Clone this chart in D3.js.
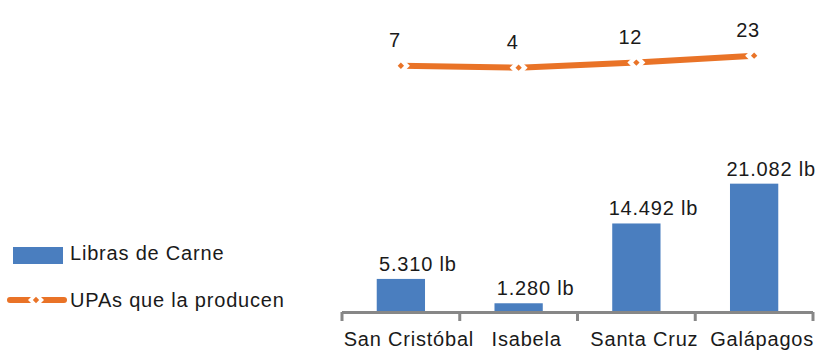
<!DOCTYPE html>
<html>
<head>
<meta charset="utf-8">
<script src="https://cdn.jsdelivr.net/npm/d3@7"></script>
<style>
  html, body { margin: 0; padding: 0; background: #fff; }
  svg { display: block; }
  text { font-family: "Liberation Sans", Arial, sans-serif; font-size: 20px; letter-spacing: 0.8px; fill: #1a1a1a; }
</style>
</head>
<body>
<svg id="chart" width="821" height="352"></svg>
<script>
const categories = ["San Cristóbal", "Isabela", "Santa Cruz", "Galápagos"];
const libras = [5310, 1280, 14492, 21082];
const libraLabels = ["5.310 lb", "1.280 lb", "14.492 lb", "21.082 lb"];
const upas = [7, 4, 12, 23];
const seriesNames = ["Libras de Carne", "UPAs que la producen"];

const blue = "#4A7EBF";
const orange = "#E97327";
const axisGray = "#878787";

const svg = d3.select("#chart");

const x = d3.scaleBand().domain(categories).range([342, 813]).paddingInner(0.59).paddingOuter(0.295);
const yBar = d3.scaleLinear().domain([0, 25000]).range([311, 160]);
const yLine = d3.scaleLinear().domain([0, 25]).range([70.2, 54.4]);

// bars
svg.selectAll("rect.bar").data(libras).enter().append("rect")
  .attr("class", "bar")
  .attr("x", (d, i) => x(categories[i]))
  .attr("width", x.bandwidth())
  .attr("y", d => yBar(d))
  .attr("height", d => yBar(0) - yBar(d))
  .attr("fill", blue);

// bar labels
svg.selectAll("text.blabel").data(libras).enter().append("text")
  .attr("class", "blabel")
  .attr("x", (d, i) => x(categories[i]) + x.bandwidth() / 2 + 17)
  .attr("y", d => yBar(d) - 8)
  .attr("text-anchor", "middle")
  .text((d, i) => libraLabels[i]);

// x axis
const axis = d3.axisBottom(x).tickSize(0).tickFormat("");
const gx = svg.append("g").attr("transform", "translate(0,312)").call(axis);
gx.select(".domain").remove();
svg.append("line").attr("x1", 342).attr("x2", 813).attr("y1", 312.5).attr("y2", 312.5)
  .attr("stroke", axisGray).attr("stroke-width", 3);
const step = x.step();
const bounds = d3.range(categories.length + 1).map(i => x.range()[0] + i * step);
svg.selectAll("line.tick").data(bounds).enter().append("line")
  .attr("class", "tick")
  .attr("x1", d => d).attr("x2", d => d)
  .attr("y1", 312).attr("y2", 321)
  .attr("stroke", axisGray).attr("stroke-width", 3);

// category labels
svg.selectAll("text.cat").data(categories).enter().append("text")
  .attr("class", "cat")
  .attr("x", d => x(d) + x.bandwidth() / 2 + 8)
  .attr("y", 346)
  .attr("text-anchor", "middle")
  .text(d => d);

// line series
const cx = (i) => x(categories[i]) + x.bandwidth() / 2;
const line = d3.line().x((d, i) => cx(i)).y(d => yLine(d));
svg.append("path").datum(upas)
  .attr("d", line)
  .attr("fill", "none")
  .attr("stroke", orange)
  .attr("stroke-width", 6);

const diamond = (r) => `M0,${-r}L${r},0L0,${r}L${-r},0Z`;
svg.selectAll("path.mw").data(upas).enter().append("path")
  .attr("class", "mw")
  .attr("transform", (d, i) => `translate(${cx(i)},${yLine(d)})`)
  .attr("d", diamond(9))
  .attr("fill", "#fff");
svg.selectAll("path.mo").data(upas).enter().append("path")
  .attr("class", "mo")
  .attr("transform", (d, i) => `translate(${cx(i)},${yLine(d)})`)
  .attr("d", diamond(3.2))
  .attr("fill", orange);

svg.selectAll("text.llabel").data(upas).enter().append("text")
  .attr("class", "llabel")
  .attr("x", (d, i) => cx(i) - 6)
  .attr("y", d => yLine(d) - 19)
  .attr("text-anchor", "middle")
  .text(d => d);

// legend
svg.append("rect").attr("x", 13).attr("y", 247).attr("width", 50).attr("height", 17).attr("fill", blue);
svg.append("text").attr("x", 70).attr("y", 260).text(seriesNames[0]);
svg.append("line").attr("x1", 10).attr("x2", 64).attr("y1", 300).attr("y2", 300)
  .attr("stroke", orange).attr("stroke-width", 6).attr("stroke-linecap", "round");
svg.append("path").attr("transform", "translate(36,300)").attr("d", diamond(8)).attr("fill", "#fff");
svg.append("path").attr("transform", "translate(36,300)").attr("d", diamond(3.2)).attr("fill", orange);
svg.append("text").attr("x", 70).attr("y", 307).text(seriesNames[1]);
</script>
</body>
</html>
